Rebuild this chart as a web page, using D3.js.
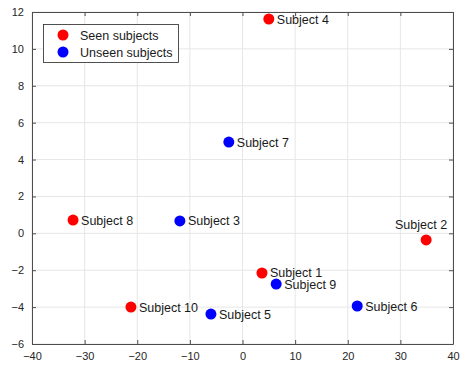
<!DOCTYPE html>
<html>
<head>
<meta charset="utf-8">
<script src="https://cdn.jsdelivr.net/npm/d3@7"></script>
<style>
  body { margin: 0; background: #fff; }
  text { font-family: "Liberation Sans", Arial, sans-serif; }
</style>
</head>
<body>
<div id="chart"></div>
<script>
// subject positions
const names = ["Subject 1", "Subject 2", "Subject 3", "Subject 4", "Subject 5",
  "Subject 6", "Subject 7", "Subject 8", "Subject 9", "Subject 10"];
const xs = [3.7, 34.9, -11.9, 5.0, -6.0, 21.8, -2.6, -32.2, 6.4, -21.2];
const ys = [-2.15, -0.36, 0.67, 11.62, -4.38, -3.94, 4.95, 0.72, -2.75, -4.0];
const seen = [true, true, false, true, false, false, false, true, false, true];
const xTicks = [-40, -30, -20, -10, 0, 10, 20, 30, 40];
const yTicks = [-6, -4, -2, 0, 2, 4, 6, 8, 10, 12];
const legendLabels = ["Seen subjects", "Unseen subjects"];

const width = 460, height = 368;
const margin = { top: 12, right: 7, bottom: 24, left: 32 };

const svg = d3.select("#chart").append("svg")
  .attr("width", width).attr("height", height);

const x = d3.scaleLinear().domain([-40, 40]).range([margin.left, width - margin.right]);
const y = d3.scaleLinear().domain([-6, 12]).range([height - margin.bottom, margin.top]);

const color = (s) => s ? "#ff0000" : "#0000ff";

// grid
svg.append("g").selectAll("line").data(xTicks).join("line")
  .attr("x1", d => x(d)).attr("x2", d => x(d))
  .attr("y1", y(-6)).attr("y2", y(12))
  .attr("stroke", "#e6e6e6");
svg.append("g").selectAll("line").data(yTicks).join("line")
  .attr("y1", d => y(d)).attr("y2", d => y(d))
  .attr("x1", x(-40)).attr("x2", x(40))
  .attr("stroke", "#e6e6e6");

// axes with inward ticks
const xAxis = svg.append("g").attr("transform", `translate(0,${y(-6)})`)
  .call(d3.axisBottom(x).tickValues(xTicks).tickSizeInner(-4).tickSizeOuter(0).tickPadding(8));
const xTop = svg.append("g").attr("transform", `translate(0,${y(12)})`)
  .call(d3.axisTop(x).tickValues(xTicks).tickSizeInner(-4).tickSizeOuter(0).tickFormat(""));
const yAxis = svg.append("g").attr("transform", `translate(${x(-40)},0)`)
  .call(d3.axisLeft(y).tickValues(yTicks).tickSizeInner(-4).tickSizeOuter(0).tickPadding(8));
const yRight = svg.append("g").attr("transform", `translate(${x(40)},0)`)
  .call(d3.axisRight(y).tickValues(yTicks).tickSizeInner(-4).tickSizeOuter(0).tickFormat(""));

[xAxis, xTop, yAxis, yRight].forEach(g => {
  g.selectAll(".domain").attr("stroke", "#4d4d4d");
  g.selectAll(".tick line").attr("stroke", "#4d4d4d");
  g.selectAll("text").attr("font-size", 11).attr("fill", "#262626")
    .style("font-family", "Liberation Sans, Arial, sans-serif");
});

// points
svg.append("g").selectAll("circle").data(names).join("circle")
  .attr("cx", (d, i) => x(xs[i]))
  .attr("cy", (d, i) => y(ys[i]))
  .attr("r", 5.5)
  .attr("fill", (d, i) => color(seen[i]));

// labels, Subject 2 sits above-left of its dot
svg.append("g").selectAll("text").data(names).join("text")
  .attr("x", (d, i) => d === "Subject 2" ? x(xs[i]) + 21 : x(xs[i]) + 8)
  .attr("y", (d, i) => d === "Subject 2" ? y(ys[i]) - 11 : y(ys[i]) + 4.5)
  .attr("text-anchor", d => d === "Subject 2" ? "end" : "start")
  .attr("font-size", 12.5)
  .attr("fill", "#1a1a1a")
  .text(d => d);

// legend
const lg = svg.append("g");
lg.append("rect").attr("x", 43.5).attr("y", 24.5).attr("width", 135).attr("height", 38)
  .attr("fill", "#fff").attr("stroke", "#262626").attr("stroke-width", 0.8);
legendLabels.forEach((t, i) => {
  lg.append("circle").attr("cx", 63).attr("cy", 35 + i * 17).attr("r", 5.5)
    .attr("fill", color(i === 0));
  lg.append("text").attr("x", 80).attr("y", 39.5 + i * 17)
    .attr("font-size", 12.5).attr("fill", "#1a1a1a").text(t);
});
</script>
</body>
</html>
